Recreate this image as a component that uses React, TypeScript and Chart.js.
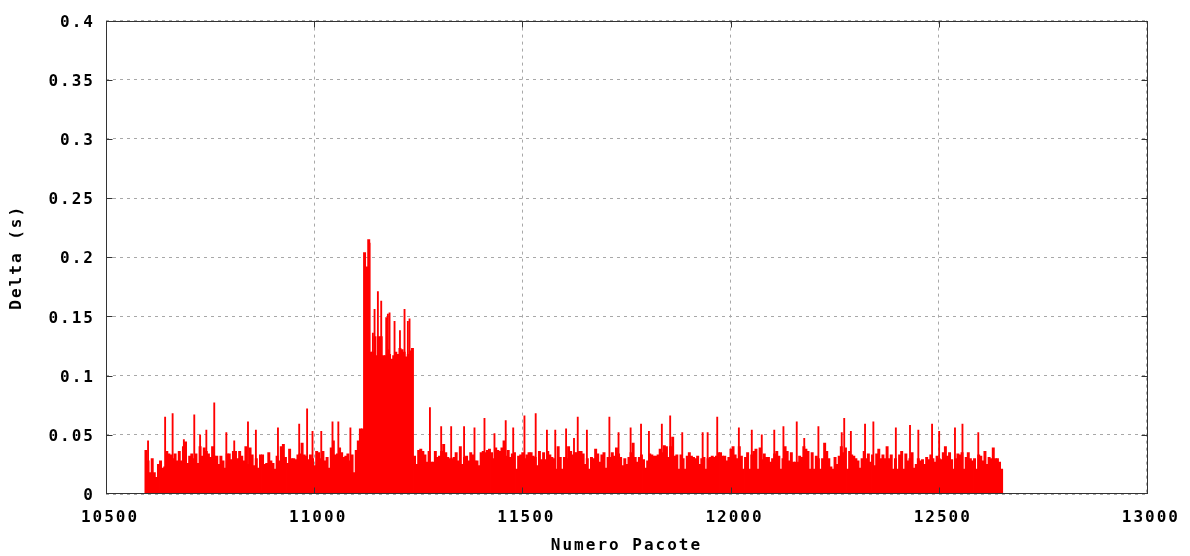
import React, { useEffect, useRef } from "react";
import { Chart, registerables } from "chart.js";

Chart.register(...registerables);

// Packet inter-arrival deltas. The trace is summarised in blocks of five
// consecutive packets (value = block level, in milliseconds), plus the
// individual packets that stand out above their block.
const firstPacket = 10594;
const blockSize = 5;

const blockDeltaMs = [
  37, 28, 18, 30, 18, 14, 25, 28, 22, 23,
  36, 34, 33, 30, 34, 28, 36, 28, 40, 44,
  26, 32, 34, 30, 34, 26, 40, 32, 39, 36,
  34, 31, 40, 32, 32, 25, 32, 28, 22, 34,
  34, 29, 36, 36, 30, 36, 32, 28, 40, 25,
  39, 33, 24, 30, 22, 33, 33, 25, 26, 35,
  28, 26, 21, 32, 28, 40, 42, 31, 26, 38,
  30, 30, 29, 33, 34, 43, 33, 32, 29, 33,
  30, 24, 36, 35, 30, 36, 28, 31, 22, 39,
  45, 33, 34, 39, 35, 31, 32, 34, 28, 33,
  18, 37, 45, 55, 55, 204, 192, 215, 120, 120,
  133, 117, 133, 133, 117, 117, 122, 118, 114, 117,
  120, 118, 123, 122, 120, 116, 118, 121, 123, 32,
  25, 37, 38, 36, 33, 27, 36, 27, 27, 36,
  31, 32, 36, 42, 35, 31, 30, 30, 31, 35,
  28, 40, 25, 31, 32, 28, 35, 33, 28, 28,
  24, 35, 36, 35, 37, 38, 35, 30, 39, 37,
  36, 39, 45, 32, 37, 31, 34, 35, 21, 32,
  33, 35, 30, 33, 35, 35, 32, 31, 24, 36,
  29, 35, 29, 36, 33, 31, 30, 21, 40, 31,
  21, 31, 30, 40, 36, 33, 35, 35, 36, 36,
  34, 25, 30, 21, 31, 30, 38, 34, 27, 33,
  35, 22, 31, 31, 35, 32, 39, 34, 31, 24,
  30, 25, 31, 35, 43, 31, 27, 31, 33, 29,
  22, 28, 34, 33, 32, 32, 33, 38, 35, 41,
  40, 31, 40, 48, 32, 33, 21, 33, 30, 21,
  32, 35, 32, 31, 30, 32, 25, 30, 31, 21,
  30, 31, 32, 31, 32, 35, 35, 32, 32, 28,
  31, 38, 40, 33, 30, 40, 32, 21, 31, 35,
  21, 33, 36, 38, 21, 39, 29, 34, 31, 31,
  27, 30, 34, 36, 32, 21, 30, 40, 36, 28,
  35, 27, 27, 27, 32, 31, 40, 38, 36, 21,
  35, 21, 32, 30, 21, 30, 43, 36, 30, 23,
  21, 31, 25, 32, 40, 35, 39, 21, 36, 33,
  32, 30, 28, 22, 30, 36, 30, 34, 27, 33,
  24, 34, 38, 30, 33, 30, 40, 30, 33, 21,
  30, 21, 33, 36, 21, 34, 28, 30, 35, 22,
  25, 30, 28, 29, 25, 31, 29, 33, 30, 27,
  32, 30, 29, 35, 40, 32, 35, 29, 21, 30,
  34, 33, 35, 21, 31, 35, 30, 28, 30, 21,
  33, 32, 28, 36, 25, 31, 30, 39, 30, 30,
  27, 21,
];

const peakPackets = [
  10601, 10642, 10660, 10687, 10712, 10726, 10741, 10760, 10789, 10808,
  10841, 10860, 10913, 10964, 10983, 10996, 11017, 11044, 11058, 11087,
  11133, 11141, 11145, 11153, 11161, 11173, 11177, 11181, 11193, 11206,
  11217, 11225, 11229, 11278, 11305, 11329, 11360, 11385, 11409, 11433,
  11460, 11478, 11505, 11532, 11559, 11579, 11605, 11624, 11633, 11655,
  11709, 11731, 11760, 11785, 11804, 11835, 11855, 11884, 11933, 11945,
  11968, 12020, 12051, 12075, 12105, 12127, 12159, 12177, 12211, 12267,
  12273, 12289, 12323, 12343, 12397, 12431, 12451, 12484, 12501, 12539,
  12557, 12595,
];

const peakDeltaMs = [
  45, 65, 68, 46, 67, 50, 54, 77, 52, 45,
  61, 54, 56, 59, 72, 53, 53, 61, 61, 56,
  212, 136, 156, 171, 163, 149, 152, 153, 146, 138,
  156, 146, 148, 73, 57, 57, 57, 56, 64, 51,
  62, 56, 66, 68, 54, 54, 55, 47, 65, 54,
  65, 52, 56, 59, 53, 59, 66, 52, 52, 52,
  65, 56, 54, 50, 54, 57, 61, 47, 57, 52,
  64, 53, 59, 61, 56, 58, 54, 59, 53, 56,
  59, 52,
];

const xTicks = [10500, 11000, 11500, 12000, 12500, 13000];
const yTicks = [0, 0.05, 0.1, 0.15, 0.2, 0.25, 0.3, 0.35, 0.4];
const yTickLabels = ["0", "0.05", "0.1", "0.15", "0.2", "0.25", "0.3", "0.35", "0.4"];

const xTitle = "Numero Pacote";
const yTitle = "Delta (s)";

const FONT = { family: "'DejaVu Sans Mono', 'Liberation Mono', monospace", size: 16, weight: "bold" as const };
const LETTER_SPACING = "2px";
const RED = "#ff0000";
const GRID = "#a8a8a8";
const FRAME = "#333333";

// Plot frame with inward tick marks, drawn over the impulses.
const framePlugin = {
  id: "frame",
  beforeDraw(chart: any) {
    chart.ctx.letterSpacing = LETTER_SPACING;
  },
  afterDatasetsDraw(chart: any) {
    const { ctx, chartArea: a, scales } = chart;
    const L = Math.round(a.left) + 0.5;
    const R = Math.round(a.right) + 0.5;
    const T = Math.round(a.top) + 0.5;
    const B = Math.round(a.bottom) - 0.5;
    ctx.save();
    ctx.strokeStyle = FRAME;
    ctx.lineWidth = 1;
    ctx.setLineDash([]);
    ctx.beginPath();
    for (const v of yTicks.slice(1, -1)) {
      const y = Math.round(scales.y.getPixelForValue(v)) + 0.5;
      ctx.moveTo(L, y);
      ctx.lineTo(L + 6, y);
      ctx.moveTo(R, y);
      ctx.lineTo(R - 6, y);
    }
    for (const v of xTicks.slice(1, -1)) {
      const x = Math.round(scales.x.getPixelForValue(v)) + 0.5;
      ctx.moveTo(x, B);
      ctx.lineTo(x, B - 6);
      ctx.moveTo(x, T);
      ctx.lineTo(x, T + 6);
    }
    ctx.stroke();
    ctx.strokeRect(L, T, R - L, B - T);
    ctx.restore();
  },
};

export default function App() {
  const canvasRef = useRef<HTMLCanvasElement>(null);

  useEffect(() => {
    const blocks = blockDeltaMs.map((ms, i) => ({
      x: firstPacket + blockSize * i + (blockSize - 1) / 2,
      y: ms / 1000,
    }));
    const peaks = peakPackets.map((p, i) => ({ x: p, y: peakDeltaMs[i] / 1000 }));

    const chart = new Chart(canvasRef.current as HTMLCanvasElement, {
      type: "bar",
      data: {
        datasets: [
          {
            data: blocks as any,
            backgroundColor: RED,
            borderWidth: 0,
            barThickness: 2.3,
            grouped: false,
          },
          {
            data: peaks as any,
            backgroundColor: RED,
            borderWidth: 0,
            barThickness: 1.2,
            grouped: false,
          },
        ],
      },
      options: {
        animation: false,
        responsive: false,
        events: [],
        layout: { padding: { left: 0, right: 42, top: 17, bottom: 0 } },
        plugins: { legend: { display: false }, tooltip: { enabled: false } },
        scales: {
          x: {
            type: "linear",
            min: 10500,
            max: 13000,
            offset: false,
            afterBuildTicks: (s: any) => {
              s.ticks = xTicks.map((value) => ({ value }));
            },
            afterFit: (s: any) => {
              s.height = 62;
            },
            ticks: {
              callback: (v: any) => String(v),
              font: FONT,
              color: "#000",
              padding: 14,
              labelOffset: 4,
              maxRotation: 0,
              autoSkip: false,
            },
            grid: { color: GRID, lineWidth: 1, drawTicks: false, offset: false },
            border: { display: false, dash: [3, 4] },
            title: {
              display: true,
              text: xTitle,
              font: FONT,
              color: "#000",
              padding: { top: 0, bottom: 1 },
            },
          },
          y: {
            type: "linear",
            min: 0,
            max: 0.4,
            afterBuildTicks: (s: any) => {
              s.ticks = yTicks.map((value) => ({ value }));
            },
            afterFit: (s: any) => {
              s.width = 106;
            },
            ticks: {
              callback: (_v: any, i: number) => yTickLabels[i],
              font: FONT,
              color: "#000",
              padding: 11,
              labelOffset: 2,
              autoSkip: false,
            },
            grid: { color: GRID, lineWidth: 1, drawTicks: false, offset: false },
            border: { display: false, dash: [3, 4] },
            title: {
              display: true,
              text: yTitle,
              font: FONT,
              color: "#000",
              padding: { top: 7, bottom: 0 },
            },
          },
        },
      },
      plugins: [framePlugin],
    });

    return () => chart.destroy();
  }, []);

  return (
    <div style={{ position: "absolute", left: 0, top: 0, width: 1190, height: 556, background: "#fff" }}>
      <canvas
        ref={canvasRef}
        width={1190}
        height={556}
        style={{ display: "block", letterSpacing: LETTER_SPACING }}
      />
    </div>
  );
}
